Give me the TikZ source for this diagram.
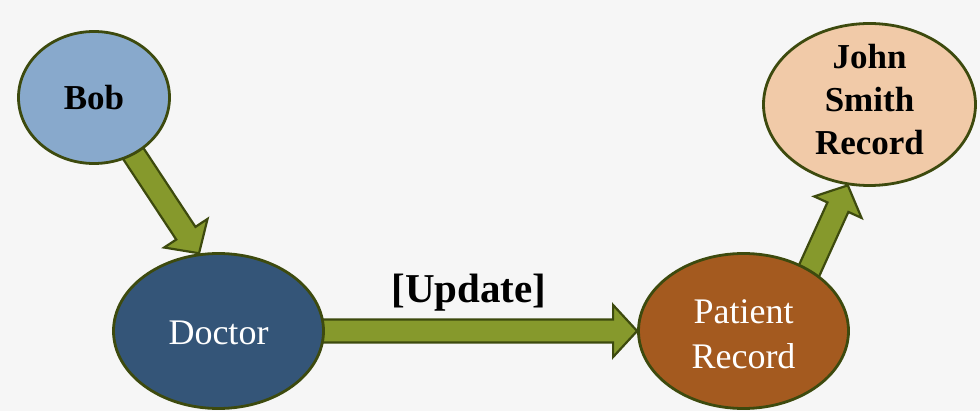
\documentclass[tikz,border=0pt]{standalone}
\usepackage{fontspec}
\setmainfont{Liberation Serif}
\usetikzlibrary{shapes.geometric,calc}

\definecolor{paper}{HTML}{F6F6F6}
\definecolor{rim}{HTML}{3D4A0E}
\definecolor{olive}{HTML}{86992C}
\definecolor{bobfill}{HTML}{88A9CC}
\definecolor{docfill}{HTML}{345578}
\definecolor{recfill}{HTML}{A45A1F}
\definecolor{johnfill}{HTML}{F1CAA8}

\pgfdeclarelayer{bg}
\pgfsetlayers{bg,main}

\tikzset{
  actor/.style={ellipse, draw=rim, line width=2.8pt, inner sep=0pt},
  blockarrow/.style={draw=rim, fill=olive, line width=2.2pt, line join=miter},
  boldtxt/.style={font=\fontsize{35}{43}\selectfont\bfseries, text=black, align=center, inner sep=0pt},
  plaintxt/.style={font=\fontsize{36}{45}\selectfont, text=white, align=center, inner sep=0pt},
  updlbl/.style={font=\fontsize{41}{48}\selectfont\bfseries, text=black, inner sep=0pt},
}

% Block arrow from #1 (tail) to #2 (tip): shaft and head drawn as one outline
\newcommand\blockarrow[2]{%
  \draw[blockarrow] let \p1=(#1), \p2=(#2),
    \n1={atan2(\y2-\y1,\x2-\x1)}, \n2={veclen(\x2-\x1,\y2-\y1)} in
    [shift={(\p1)}, rotate=\n1]
    (-4,11.5) -- ({\n2-24},11.5) -- ({\n2-24},26) -- (\n2,0)
    -- ({\n2-24},-26) -- ({\n2-24},-11.5) -- (-4,-11.5) -- cycle;
}

\begin{document}
\begin{tikzpicture}[x=1pt, y=-1pt]
  \useasboundingbox (0,0) rectangle (980,411);

  \node[actor, fill=bobfill, minimum width=151pt, minimum height=132pt,
        label={[boldtxt, name=bobtxt]center:Bob}]
    (bob) at (94,97.5) {};
  \node[actor, fill=docfill, minimum width=210pt, minimum height=155pt,
        label={[plaintxt, name=doctxt, yshift=-2pt]center:Doctor}]
    (doctor) at (218.5,331) {};
  \node[actor, fill=recfill, minimum width=210pt, minimum height=155pt,
        label={[plaintxt, name=pattxt, yshift=-3pt]center:Patient\\Record}]
    (patient) at (743.5,331) {};
  \node[actor, fill=johnfill, minimum width=212pt, minimum height=162pt,
        label={[boldtxt, name=johntxt, yshift=5pt]center:John\\Smith\\Record}]
    (john) at (869.5,104.5) {};

  \begin{pgfonlayer}{bg}
    \fill[paper] (0,0) rectangle (980,411);
    \blockarrow{bob.-55}{doctor.104}
    \blockarrow{doctor.east}{patient.west}
    \blockarrow{patient.43}{john.-105}
  \end{pgfonlayer}

  \node[updlbl, anchor=base] (upd)
    at ($(doctor.east)!0.5!(patient.west)+(-12,-28)$) {[Update]};
\end{tikzpicture}
\end{document}
